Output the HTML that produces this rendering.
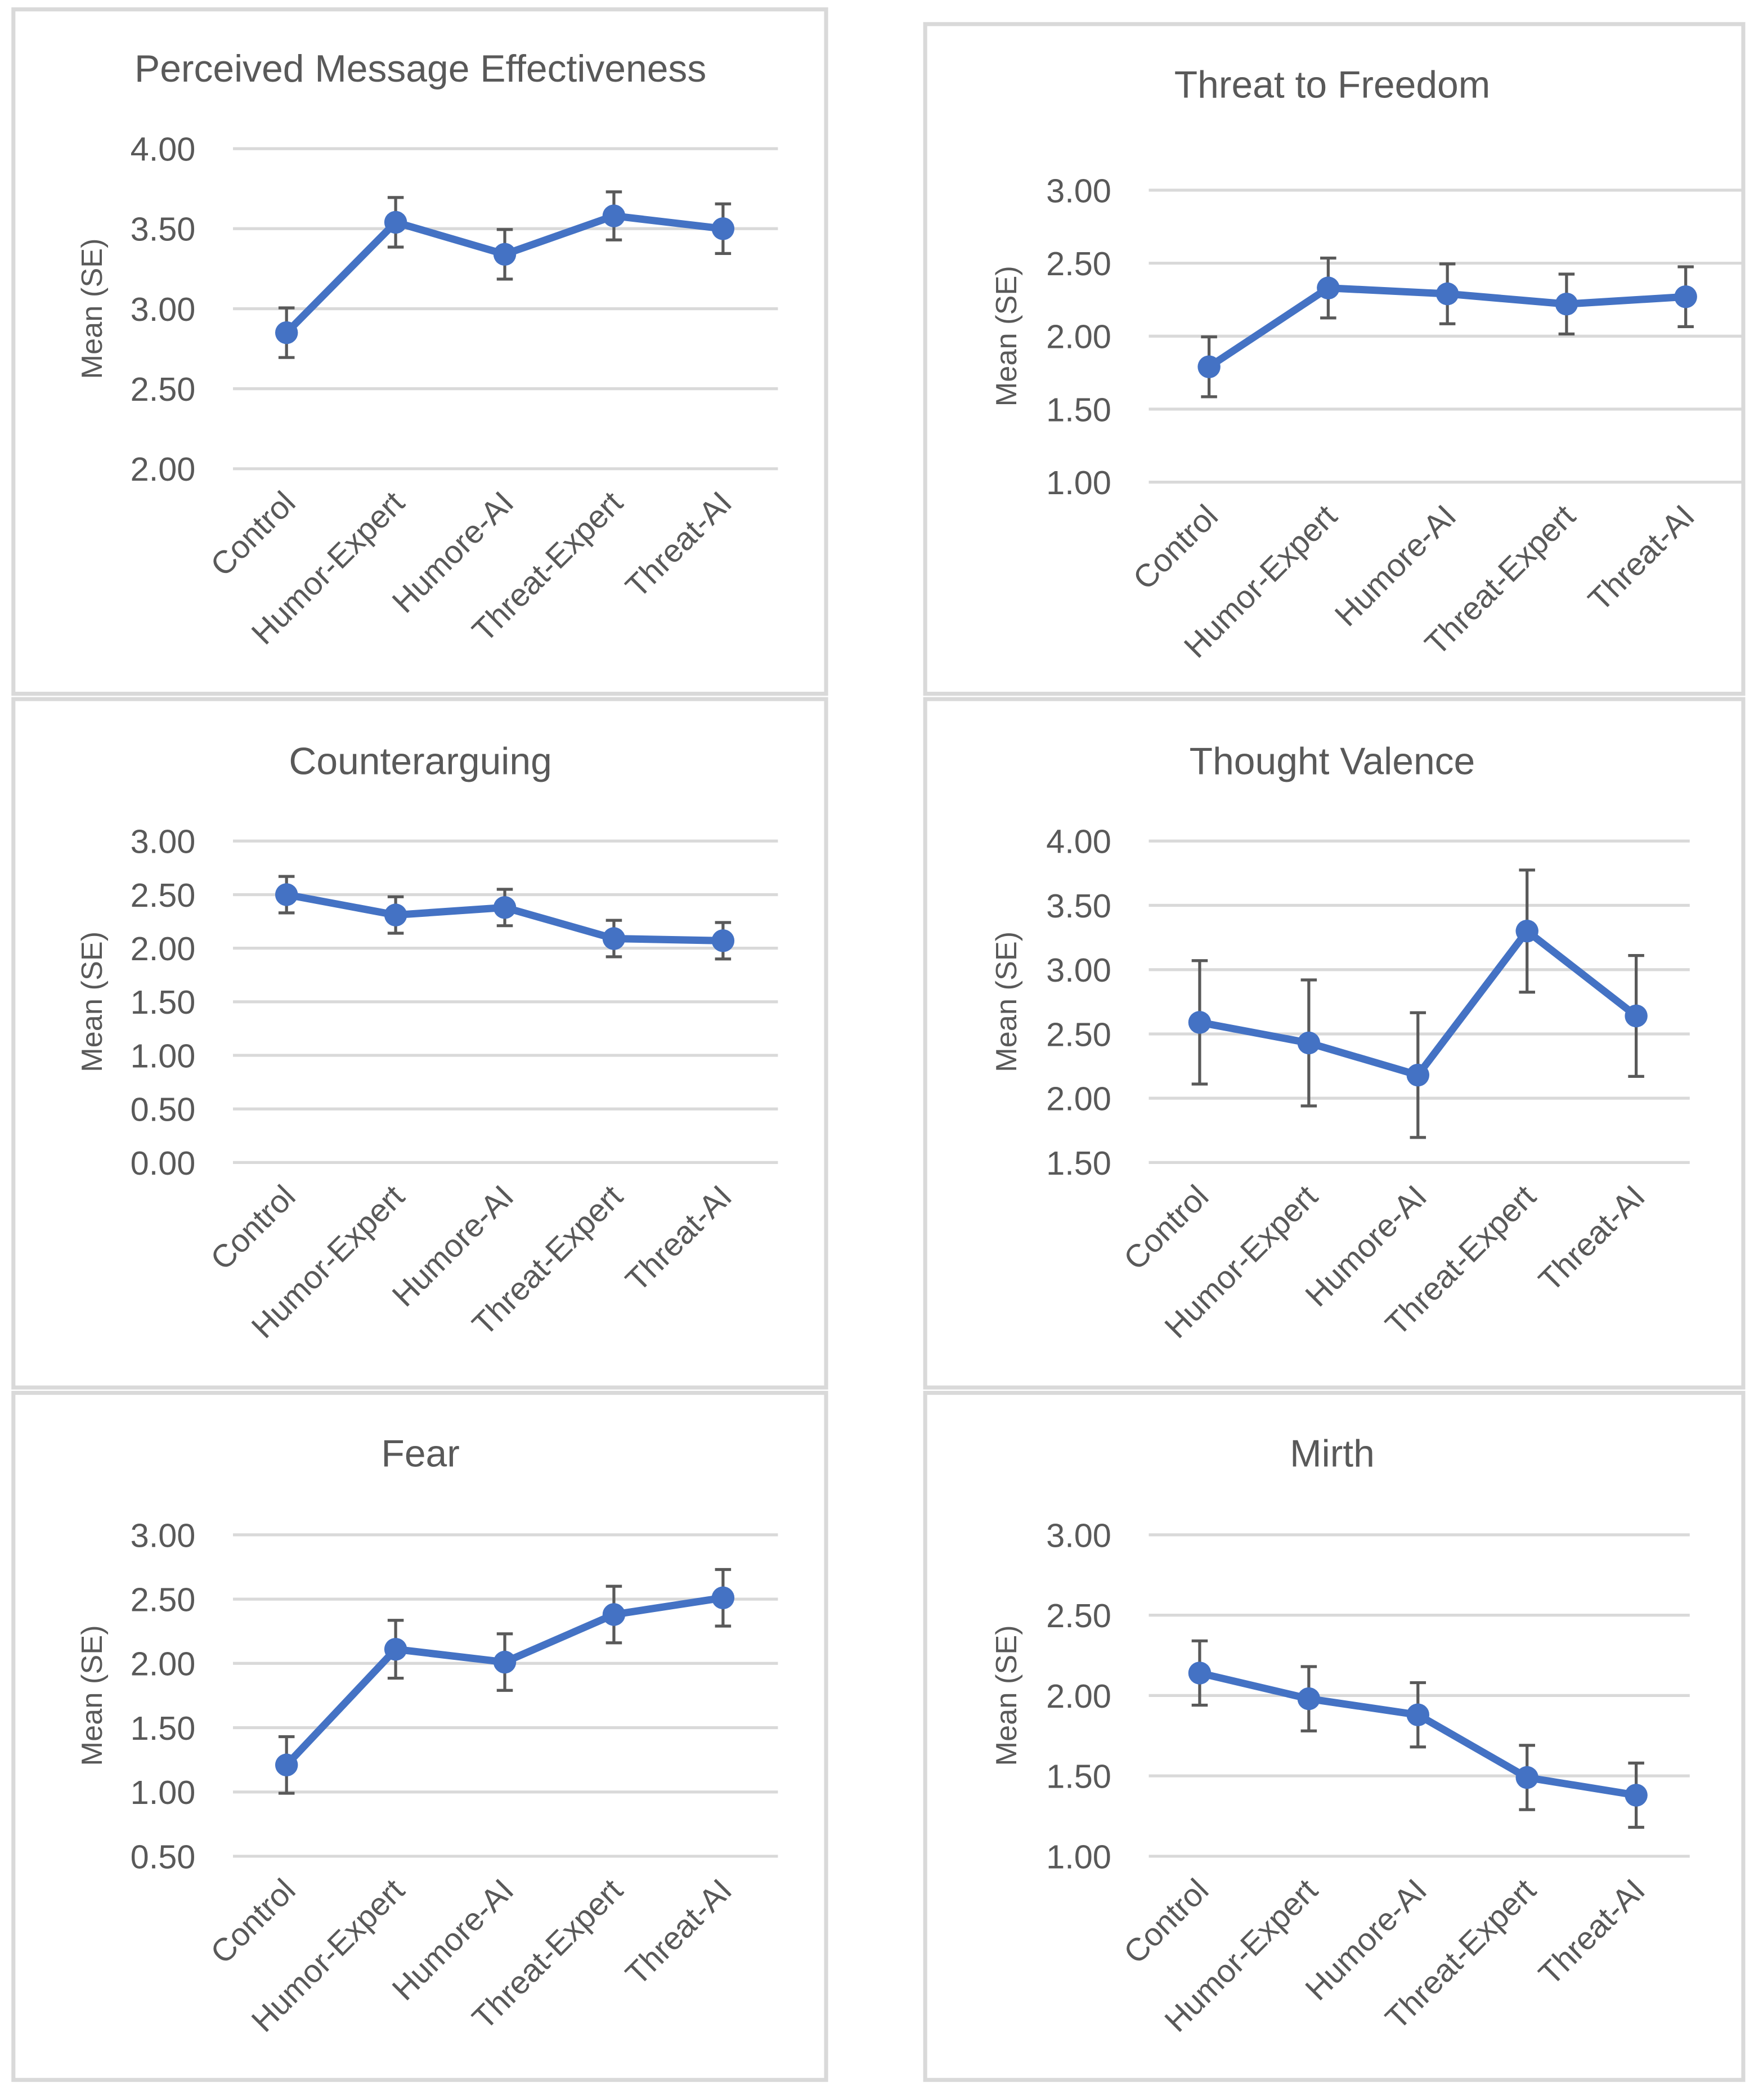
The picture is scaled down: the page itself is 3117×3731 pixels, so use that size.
<!DOCTYPE html>
<html><head><meta charset="utf-8"><style>
html,body{margin:0;padding:0;background:#fff}
svg{display:block}
text{font-family:"Liberation Sans",sans-serif;fill:#595959}
</style></head><body>
<svg id="fig" width="3117" height="3731" viewBox="0 0 1310 1568" preserveAspectRatio="none" xmlns="http://www.w3.org/2000/svg"></svg>
<script>
const categories = ["Control","Humor-Expert","Humore-AI","Threat-Expert","Threat-AI"];
const pmeMean = [2.85,3.54,3.34,3.58,3.50];
const pmeSE = [0.155,0.155,0.155,0.15,0.155];
const pmeTicks = [2.00,2.50,3.00,3.50,4.00];
const ttfMean = [1.79,2.33,2.29,2.22,2.27];
const ttfSE = [0.205,0.205,0.205,0.205,0.205];
const ttfTicks = [1.00,1.50,2.00,2.50,3.00];
const caMean = [2.50,2.31,2.38,2.09,2.07];
const caSE = [0.17,0.17,0.17,0.17,0.17];
const caTicks = [0.00,0.50,1.00,1.50,2.00,2.50,3.00];
const tvMean = [2.59,2.43,2.18,3.30,2.64];
const tvSE = [0.48,0.49,0.485,0.475,0.47];
const tvTicks = [1.50,2.00,2.50,3.00,3.50,4.00];
const fearMean = [1.21,2.11,2.01,2.38,2.51];
const fearSE = [0.22,0.225,0.22,0.22,0.22];
const fearTicks = [0.50,1.00,1.50,2.00,2.50,3.00];
const mirthMean = [2.14,1.98,1.88,1.49,1.38];
const mirthSE = [0.20,0.20,0.20,0.20,0.20];
const mirthTicks = [1.00,1.50,2.00,2.50,3.00];

const NS="http://www.w3.org/2000/svg";
const svg=document.getElementById('fig');
function mk(tag,attrs,parent){const e=document.createElementNS(NS,tag);for(const k in attrs)e.setAttribute(k,attrs[k]);(parent||svg).appendChild(e);return e;}

function chart(o){
  const g=mk('g',{});
  
  
  const box=mk('rect',{x:o.bx,y:o.by,width:o.bw,height:o.bh,fill:'#fff',stroke:'#d9d9d9','stroke-width':3},g);
  
  
  const t=mk('text',{x:o.tx,y:o.ty,'text-anchor':'middle','font-size':28.5},g);t.textContent=o.title;
  
  
  const tmin=o.ticks[0],tmax=o.ticks[o.ticks.length-1];
  const y=v=>o.yBot+(v-tmin)/(tmax-tmin)*(o.yTop-o.yBot);
  const x=i=>o.x0+i*o.dx;
  o.ticks.forEach(v=>{
    const l=mk('line',{x1:o.gx1,x2:o.gx2,y1:y(v),y2:y(v),stroke:'#d9d9d9','stroke-width':2.2},g);
    
    
    const tl=mk('text',{x:o.gx1-28,y:y(v)+9,'text-anchor':'end','font-size':25},g);tl.textContent=v.toFixed(2);
    
    
  });
  const yc=(o.yTop+o.yBot)/2;
  const yt=mk('text',{x:0,y:0,'text-anchor':'middle','font-size':22,transform:`translate(${o.ytx},${yc}) rotate(-90)`},g);yt.textContent='Mean (SE)';
  
  
  categories.forEach((c,i)=>{
    const lx=x(i)+8, ly=o.yBot+27;
    const ct=mk('text',{x:0,y:0,'text-anchor':'end','font-size':24,transform:`translate(${lx},${ly}) rotate(-45)`},g);ct.textContent=c;
    
    
  });
  o.mean.forEach((m,i)=>{
    const lo=y(m-o.se[i]),hi=y(m+o.se[i]);
    const eb=mk('path',{d:`M${x(i)},${lo}V${hi}M${x(i)-6},${lo}H${x(i)+6}M${x(i)-6},${hi}H${x(i)+6}`,stroke:'#595959','stroke-width':2.2,fill:'none'},g);
    
    
  });
  const pts=o.mean.map((m,i)=>x(i)+','+y(m)).join(' ');
  const pl=mk('polyline',{points:pts,fill:'none',stroke:'#4472c4','stroke-width':5.5,'stroke-linejoin':'round'},g);
  
  
  o.mean.forEach((m,i)=>{
    const c=mk('circle',{cx:x(i),cy:y(m),r:8.5,fill:'#4472c4'},g);
    
    
  });
}
const L={bx:10,bw:607,gx1:174,gx2:581,x0:214,dx:81.5,ytx:76,tx:314};
const R={bx:691,bw:611,gx1:858,gx2:1302,ytx:759,tx:995};
chart(Object.assign({},L,{name:'pme',title:'Perceived Message Effectiveness',by:7,bh:511,ty:61,ticks:pmeTicks,mean:pmeMean,se:pmeSE,yTop:111,yBot:350}));
chart(Object.assign({},R,{name:'ttf',title:'Threat to Freedom',by:18,bh:500,ty:73,ticks:ttfTicks,mean:ttfMean,se:ttfSE,yTop:142,yBot:360,x0:903,dx:89}));
chart(Object.assign({},L,{name:'ca',title:'Counterarguing',by:522,bh:514,ty:578,ticks:caTicks,mean:caMean,se:caSE,yTop:628,yBot:868}));
chart(Object.assign({},R,{name:'tv',title:'Thought Valence',by:522,bh:514,ty:578,ticks:tvTicks,mean:tvMean,se:tvSE,yTop:628,yBot:868,gx2:1262,x0:896,dx:81.5}));
chart(Object.assign({},L,{name:'fear',title:'Fear',by:1040,bh:513,ty:1095,ticks:fearTicks,mean:fearMean,se:fearSE,yTop:1146,yBot:1386}));
chart(Object.assign({},R,{name:'mirth',title:'Mirth',by:1040,bh:513,ty:1095,ticks:mirthTicks,mean:mirthMean,se:mirthSE,yTop:1146,yBot:1386,gx2:1262,x0:896,dx:81.5}));
</script>
</body></html>
